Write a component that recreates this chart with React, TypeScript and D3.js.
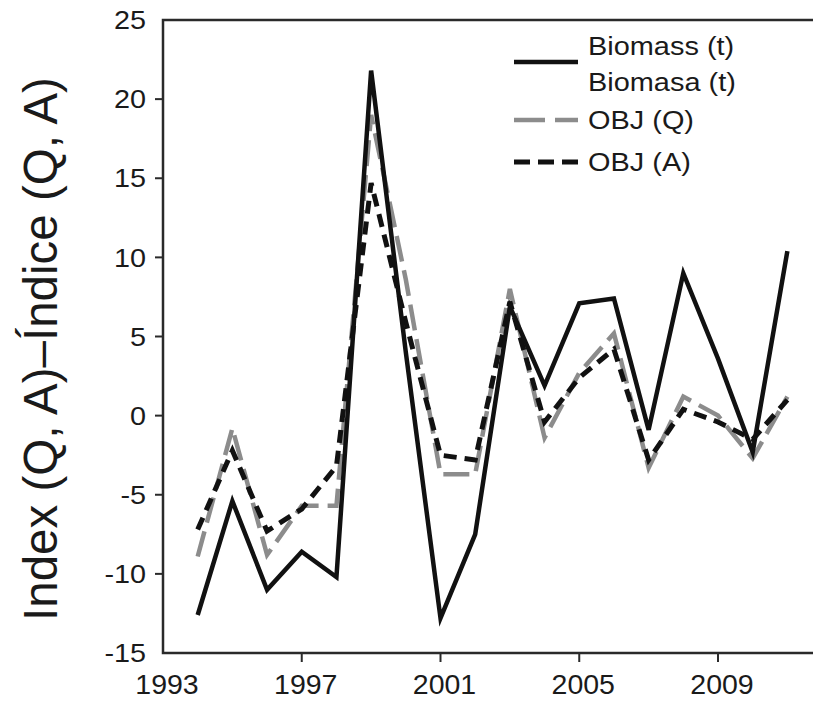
import React, { useEffect, useRef } from 'react';
import * as d3 from 'd3';

// Values
const years = [1994, 1995, 1996, 1997, 1998, 1999, 2000, 2001, 2002, 2003, 2004, 2005, 2006, 2007, 2008, 2009, 2010, 2011];
const biomass = [-12.6, -5.4, -11.0, -8.6, -10.2, 21.8, 4.0, -12.8, -7.5, 6.9, 1.9, 7.1, 7.4, -0.9, 9.0, 3.6, -2.3, 10.4];
const objQ = [-8.9, -0.8, -8.8, -5.7, -5.7, 19.0, 8.6, -3.7, -3.7, 8.0, -1.4, 2.7, 5.2, -3.3, 1.2, 0.0, -2.7, 1.2];
const objA = [-7.2, -2.2, -7.3, -5.9, -3.2, 14.7, 5.9, -2.5, -2.8, 7.2, -0.4, 2.4, 4.2, -2.8, 0.4, -0.4, -1.5, 1.0];

const yTicks = [-15, -10, -5, 0, 5, 10, 15, 20, 25];
const xTicks = [1993, 1997, 2001, 2005, 2009];

const seriesNames = ['Biomass (t)', 'Biomasa (t)', 'OBJ (Q)', 'OBJ (A)'];

const FONT = '"Liberation Sans", Arial, Helvetica, sans-serif';
const W = 813;
const H = 703;
// the source figure is slightly stretched horizontally
const STRETCH = 1.13;

const App = () => {
  const ref = useRef<SVGSVGElement>(null);

  useEffect(() => {
    const svg = d3.select(ref.current);
    svg.selectAll('*').remove();

    const left = 163;
    const top = 20;
    const bottom = 653;

    const x = d3.scaleLinear().domain([1993, 2009]).range([left, 718]);
    const y = d3.scaleLinear().domain([-15, 25]).range([bottom, top]);

    const g = svg.append('g');

    // frame: left, top and bottom lines (right side is cut off)
    g.append('path')
      .attr('d', `M${W},${top}H${left}V${bottom}H${W}`)
      .attr('fill', 'none')
      .attr('stroke', '#2a2a2a')
      .attr('stroke-width', 2.5);

    // y ticks and labels
    yTicks.forEach(t => {
      if (t > -15 && t < 25) {
        g.append('line')
          .attr('x1', left - 8).attr('x2', left)
          .attr('y1', y(t)).attr('y2', y(t))
          .attr('stroke', '#2a2a2a').attr('stroke-width', 2);
      }
      g.append('text')
        .attr('transform', `translate(146,${y(t)}) scale(${STRETCH},1)`)
        .attr('dy', '0.36em')
        .attr('text-anchor', 'end')
        .attr('font-family', FONT)
        .attr('font-size', 25.5)
        .attr('fill', '#1a1a1a')
        .text(t);
    });

    // x ticks and labels
    xTicks.forEach(t => {
      if (t > 1993) {
        g.append('line')
          .attr('x1', x(t)).attr('x2', x(t))
          .attr('y1', bottom).attr('y2', bottom + 9)
          .attr('stroke', '#2a2a2a').attr('stroke-width', 2);
      }
      g.append('text')
        .attr('x', x(t) + 4)
        .attr('y', 694)
        .attr('text-anchor', 'middle')
        .attr('font-family', FONT)
        .attr('font-size', 28.5)
        .attr('fill', '#1a1a1a')
        .text(t);
    });

    // y axis title
    g.append('text')
      .attr('transform', `translate(57,349) rotate(-90)`)
      .attr('text-anchor', 'middle')
      .attr('font-family', FONT)
      .attr('font-size', 47.5)
      .attr('fill', '#1a1a1a')
      .text('Index (Q, A)\u2013\u00CDndice (Q, A)');

    const line = d3.line<number>()
      .x((d, i) => x(years[i]))
      .y(d => y(d));

    const styles = [
      { data: objQ, color: '#8c8c8c', dash: '26,9', width: 4.5 },
      { data: objA, color: '#111', dash: '13,8', width: 5 },
      { data: biomass, color: '#111', dash: null, width: 4.5 }
    ];

    styles.forEach(s => {
      g.append('path')
        .datum(s.data)
        .attr('d', line)
        .attr('fill', 'none')
        .attr('stroke', s.color)
        .attr('stroke-width', s.width)
        .attr('stroke-linejoin', 'miter')
        .attr('stroke-dasharray', s.dash);
    });

    // legend
    const legend = g.append('g');
    const legendLines = [
      { y: 62, color: '#111', dash: null, width: 4.5 },
      { y: 120, color: '#8c8c8c', dash: '31,10', width: 4.5 },
      { y: 162, color: '#111', dash: '16,8', width: 5 }
    ];
    legendLines.forEach(l => {
      legend.append('line')
        .attr('x1', 514).attr('x2', 578)
        .attr('y1', l.y).attr('y2', l.y)
        .attr('stroke', l.color)
        .attr('stroke-width', l.width)
        .attr('stroke-dasharray', l.dash);
    });
    const legendBaselines = [55, 91, 129, 171];
    seriesNames.forEach((name, i) => {
      legend.append('text')
        .attr('transform', `translate(588,${legendBaselines[i]}) scale(${STRETCH},1)`)
        .attr('font-family', FONT)
        .attr('font-size', 25.6)
        .attr('fill', '#1a1a1a')
        .text(name);
    });
  }, []);

  return (
    <svg
      ref={ref}
      width={W}
      height={H}
      style={{ position: 'absolute', left: 0, top: 0, background: '#fff' }}
    />
  );
};

export default App;
